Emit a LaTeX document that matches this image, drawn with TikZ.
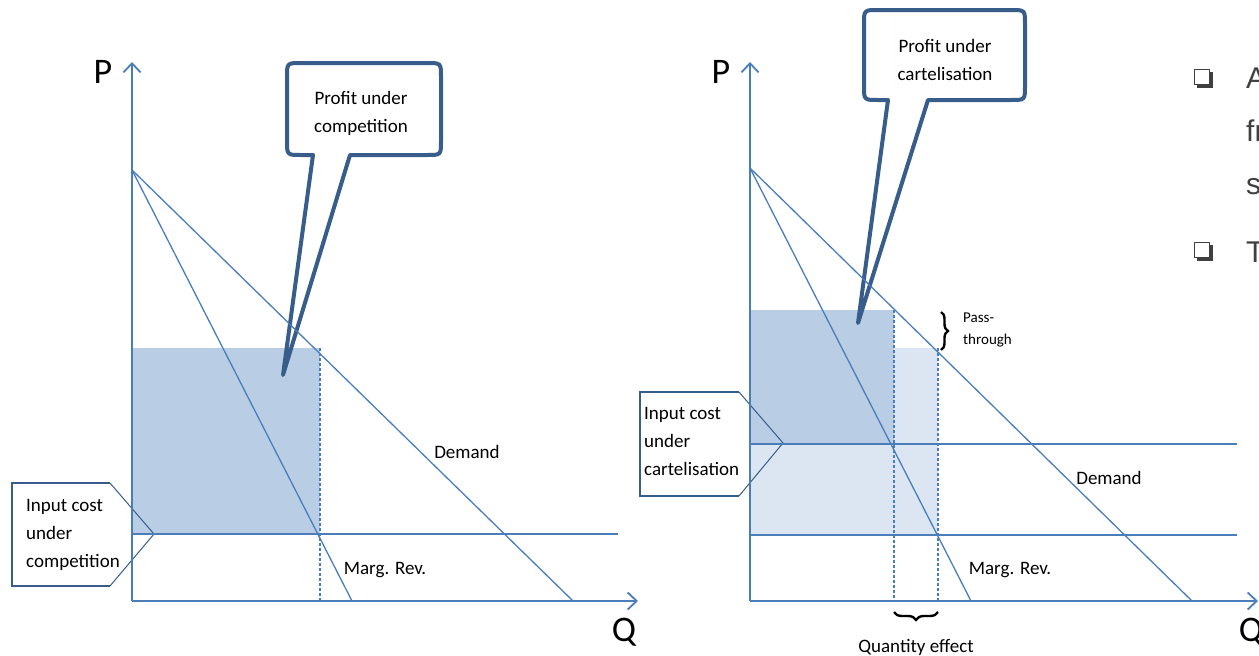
\documentclass[tikz,border=0pt]{standalone}
\usepackage{fontspec}
\setmainfont{Carlito}
\newfontfamily\slidefont{Liberation Sans}
\usetikzlibrary{arrows.meta,decorations.pathreplacing}
\definecolor{axisblue}{HTML}{4A7EBB}
\definecolor{calloutblue}{HTML}{385D8A}
\definecolor{fillA}{HTML}{B9CDE5}
\definecolor{fillB}{HTML}{DCE6F2}
\definecolor{slidegray}{HTML}{404040}
\begin{document}
\begin{tikzpicture}[x=1pt,y=-1pt,
  axisline/.style={draw=axisblue, line width=2pt, -{Straight Barb[length=9pt,width=17pt,line width=1.8pt]}},
  curveline/.style={draw=axisblue, line width=1.3pt},
  costline/.style={draw=axisblue, line width=2.2pt},
  guideline/.style={draw=axisblue, line width=1.3pt, dash pattern=on 3pt off 2pt},
  calloutbox/.style={draw=calloutblue, line width=4pt, fill=white, line join=round},
  tagbox/.style={draw=calloutblue, line width=2pt},
  tagedge/.style={draw=calloutblue, line width=1pt},
  lbl/.style={inner sep=0pt, font=\fontsize{19}{28}\selectfont, text=black},
  smalllbl/.style={inner sep=0pt, font=\fontsize{15}{22}\selectfont, text=black},
  axlbl/.style={inner sep=0pt, font=\fontsize{36}{40}\selectfont, text=black},
  slidetxt/.style={inner sep=0pt, anchor=base west, font=\slidefont\fontsize{30}{34}\selectfont, text=slidegray},
  bracemark/.style={draw=black, line width=2.4pt, decorate, decoration={brace, amplitude=7pt}},
]
\useasboundingbox (0,0) rectangle (1259,656);

% ---------------- coordinates: left chart ----------------
\coordinate (O1) at (132,601);
\coordinate (Yt1) at (132,62);
\coordinate (Xe1) at (638,601);
\coordinate (A1) at (132,170);
\coordinate (D1) at (573,601);
\coordinate (M1) at (352,601);
\coordinate (C1s) at (132,534);
\coordinate (C1e) at (618,534);
\coordinate (V1t) at (320,348);
\coordinate (V1b) at (320,601);

% ---------------- coordinates: right chart ----------------
\coordinate (O2) at (750,601);
\coordinate (Yt2) at (750,62);
\coordinate (Xe2) at (1258,601);
\coordinate (A2) at (750,168);
\coordinate (D2) at (1192,601);
\coordinate (M2) at (971,601);
\coordinate (U2s) at (750,444);
\coordinate (U2e) at (1237,444);
\coordinate (L2s) at (750,535);
\coordinate (L2e) at (1237,535);
\coordinate (V2t) at (894,310);
\coordinate (V2b) at (894,601);
\coordinate (V3t) at (938,348);
\coordinate (V3b) at (938,601);

% ---------------- fills ----------------
\fill[fillA] (132,348) rectangle (320,534);
\fill[fillB] (750,444) rectangle (938,535);
\fill[fillB] (894,348) rectangle (938,444);
\fill[fillA] (750,310) rectangle (894,444);

% ---------------- callouts ----------------
\draw[calloutbox] (313,155) -- (283,375) -- (350,155) -- (427,155)
  .. controls (441,155) .. (441,141) -- (441,77)
  .. controls (441,63) .. (427,63) -- (301,63)
  .. controls (287,63) .. (287,77) -- (287,141)
  .. controls (287,155) .. (301,155) -- cycle;
\draw[calloutbox] (888,100) -- (858,323) -- (928,100) -- (1011,100)
  .. controls (1025,100) .. (1025,86) -- (1025,24)
  .. controls (1025,10) .. (1011,10) -- (878,10)
  .. controls (864,10) .. (864,24) -- (864,86)
  .. controls (864,100) .. (878,100) -- cycle;

\draw[tagbox] (110,483) -- (12,483) -- (12,586) -- (110,586);
\draw[tagedge] (110,483) -- (154,534) -- (110,586);
\draw[tagbox] (739,392) -- (640,392) -- (640,496) -- (739,496);
\draw[tagedge] (739,392) -- (783,443) -- (739,496);

% ---------------- left chart lines ----------------
\draw[guideline] (V1t) -- (V1b);
\draw[curveline] (A1) -- (D1);
\draw[curveline] (A1) -- (M1);
\draw[costline] (C1s) -- (C1e);
\draw[axisline] (O1) -- (Yt1);
\draw[axisline] (O1) -- (Xe1);

% ---------------- right chart lines ----------------
\draw[guideline] (V2t) -- (V2b);
\draw[guideline] (V3t) -- (V3b);
\draw[curveline] (A2) -- (D2);
\draw[curveline] (A2) -- (M2);
\draw[costline] (U2s) -- (U2e);
\draw[costline] (L2s) -- (L2e);
\draw[axisline] (O2) -- (Yt2);
\draw[axisline] (O2) -- (Xe2);

% ---------------- braces ----------------
\coordinate (B1t) at (941,312);
\coordinate (B1b) at (941,350);
\draw[bracemark] (B1t) -- (B1b);
\coordinate (B2r) at (938,612);
\coordinate (B2l) at (894,612);
\draw[bracemark, decoration={brace, amplitude=8pt}] (B2r) -- (B2l);

% ---------------- labels ----------------
\node[axlbl] (P1) at (103,72) {P};
\node[axlbl] (Q1) at (624,632) {Q};
\node[axlbl] (P2) at (721,72) {P};
\node[axlbl] (Q2) at (1251,632) {Q};

\node[lbl, align=center] (profitcomp) at (361,113) {Profit under\\competition};
\node[lbl, align=center] (profitcart) at (945,60) {Profit under\\cartelisation};
\node[lbl, align=left, anchor=west] (inputcomp) at (26,535) {Input cost\\under\\competition};
\node[lbl, align=left, anchor=west] (inputcart) at (644,441) {Input cost\\under\\cartelisation};
\node[lbl] (dem1) at (467,452) {Demand};
\node[lbl] (dem2) at (1109,478) {Demand};
\node[lbl] (mr1) at (385,570) {Marg. Rev.};
\node[lbl] (mr2) at (1010,570) {Marg. Rev.};
\node[smalllbl, align=left, anchor=west] (pass) at (963,330) {Pass-\\through};
\node[lbl] (qeff) at (916,647) {Quantity effect};

% ---------------- cut-off slide text ----------------
\fill[slidegray] (1197,72) rectangle (1213,88);
\filldraw[fill=white, draw=slidegray, line width=1pt] (1194.5,69.5) rectangle (1209.5,84.5);
\fill[slidegray] (1197,245) rectangle (1213,261);
\filldraw[fill=white, draw=slidegray, line width=1pt] (1194.5,242.5) rectangle (1209.5,257.5);
\node[slidetxt] (s1) at (1246,88) {A};
\node[slidetxt] (s2) at (1246,141) {fr};
\node[slidetxt] (s3) at (1246,194) {s};
\node[slidetxt] (s4) at (1246,262) {T};
\end{tikzpicture}
\end{document}
